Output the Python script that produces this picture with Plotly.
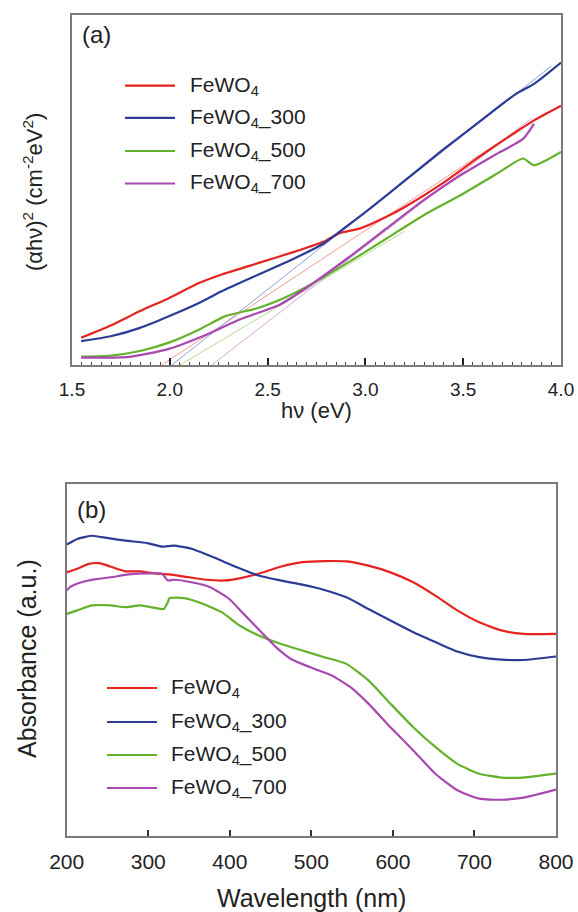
import plotly.graph_objects as go

W, H = 578, 912
FONT = "Liberation Sans, Arial, sans-serif"

# ---------------- Panel (a) data: (alpha h nu)^2 vs h nu ----------------
a_red_x = [1.547, 1.698, 1.848, 1.995, 2.149, 2.262, 2.451, 2.639, 2.789, 2.865, 2.978, 3.110, 3.204, 3.392, 3.580, 3.768, 3.862, 4.0]
a_red_y = [7.8, 11.3, 15.4, 19.1, 23.4, 25.8, 29.1, 32.4, 35.3, 37.6, 39.1, 42.4, 45.2, 51.8, 59.4, 66.5, 69.9, 74.1]

a_blue_x = [1.547, 1.698, 1.848, 1.995, 2.149, 2.262, 2.451, 2.639, 2.789, 2.902, 3.015, 3.204, 3.392, 3.580, 3.768, 3.862, 4.0]
a_blue_y = [6.8, 8.2, 10.6, 13.9, 17.7, 21.0, 25.8, 30.5, 34.8, 39.5, 44.3, 52.8, 61.3, 69.4, 77.4, 80.3, 86.4]

a_green_x = [1.547, 1.698, 1.848, 1.995, 2.149, 2.281, 2.451, 2.601, 2.733, 2.921, 3.110, 3.298, 3.486, 3.674, 3.806, 3.862, 4.0]
a_green_y = [2.4, 2.7, 4.0, 6.4, 10.1, 13.9, 16.3, 19.6, 23.4, 29.6, 36.2, 42.8, 48.5, 54.7, 59.0, 57.1, 60.9]

a_purple_x = [1.547, 1.792, 1.995, 2.168, 2.357, 2.564, 2.733, 2.921, 3.110, 3.298, 3.486, 3.674, 3.806, 3.862]
a_purple_y = [2.1, 2.3, 4.6, 8.2, 13.0, 17.3, 23.4, 31.0, 39.1, 47.1, 54.2, 60.4, 64.6, 68.9]

# linear extrapolation (Tauc) lines: [start, end]
tan_red_x, tan_red_y = [1.959, 3.80], [0.0, 68.0]
tan_blue_x, tan_blue_y = [2.010, 3.95], [0.0, 85.4]
tan_green_x, tan_green_y = [2.052, 3.20], [0.0, 38.2]
tan_purple_x, tan_purple_y = [2.214, 3.85], [0.0, 70.5]

# ---------------- Panel (b) data: absorbance vs wavelength ----------------
b_red_x = [200, 213, 227, 240, 254, 272, 290, 308, 326, 344, 371, 394, 412, 435, 462, 489, 516, 543, 570, 597, 625, 652, 679, 706, 733, 760, 800]
b_red_y = [74.9, 75.9, 77.3, 77.5, 76.5, 75.2, 75.2, 74.6, 74.3, 73.7, 72.8, 72.6, 73.2, 74.5, 76.5, 77.8, 78.1, 78.0, 76.8, 74.9, 72.1, 68.3, 64.1, 60.7, 58.4, 57.4, 57.4]

b_blue_x = [200, 213, 231, 249, 272, 299, 317, 331, 353, 380, 408, 435, 462, 489, 516, 543, 570, 597, 625, 652, 679, 706, 733, 760, 800]
b_blue_y = [82.8, 84.4, 85.3, 84.7, 83.9, 83.2, 82.2, 82.5, 81.6, 79.2, 76.4, 74.0, 72.6, 71.4, 69.9, 67.8, 64.5, 61.2, 57.9, 55.1, 52.4, 50.8, 50.1, 50.0, 51.0]

b_green_x = [200, 213, 231, 254, 272, 290, 308, 319, 324, 326, 344, 362, 390, 412, 435, 462, 489, 516, 543, 570, 597, 625, 652, 679, 706, 733, 760, 800]
b_green_y = [63.1, 64.1, 65.5, 65.5, 65.0, 65.5, 64.8, 64.5, 66.4, 67.6, 67.6, 66.4, 63.6, 59.8, 57.0, 54.6, 52.7, 50.8, 48.9, 44.2, 37.6, 30.9, 25.3, 20.5, 17.7, 16.6, 16.6, 17.7]

b_purple_x = [200, 204, 218, 236, 254, 276, 299, 317, 324, 331, 353, 376, 399, 417, 435, 457, 475, 498, 525, 548, 570, 597, 625, 652, 679, 706, 733, 760, 800]
b_purple_y = [69.7, 70.7, 72.1, 73.0, 73.5, 74.3, 74.6, 74.5, 72.6, 72.8, 72.1, 70.7, 67.4, 63.1, 58.8, 53.6, 50.3, 48.0, 45.6, 42.3, 37.6, 30.9, 24.3, 17.7, 13.0, 10.6, 10.3, 10.9, 13.2]

names = ["FeWO<sub>4</sub>", "FeWO<sub>4</sub>_300", "FeWO<sub>4</sub>_500", "FeWO<sub>4</sub>_700"]
colors = ["#e5231f", "#2c3c96", "#64b22c", "#a848b0"]
light = ["#f29a95", "#8fa0d8", "#b4dc94", "#d9a6dd"]

a_x_ticks = [1.5, 2.0, 2.5, 3.0, 3.5, 4.0]
a_x_ticklabels = ["1.5", "2.0", "2.5", "3.0", "3.5", "4.0"]
b_x_ticks = [200, 300, 400, 500, 600, 700, 800]

fig = go.Figure()

# tangent lines (thin, light)
for (tx, ty), c in zip([(tan_red_x, tan_red_y), (tan_blue_x, tan_blue_y),
                         (tan_green_x, tan_green_y), (tan_purple_x, tan_purple_y)], light):
    fig.add_trace(go.Scatter(x=tx, y=ty, mode="lines", line=dict(color=c, width=1),
                             showlegend=False, hoverinfo="skip", xaxis="x", yaxis="y"))

for (xs, ys), c, n in zip([(a_red_x, a_red_y), (a_blue_x, a_blue_y),
                            (a_green_x, a_green_y), (a_purple_x, a_purple_y)], colors, names):
    fig.add_trace(go.Scatter(x=xs, y=ys, mode="lines", line=dict(color=c, width=2.2, shape="spline", smoothing=0.6),
                             name=n, showlegend=False, xaxis="x", yaxis="y"))

for (xs, ys), c, n in zip([(b_red_x, b_red_y), (b_blue_x, b_blue_y),
                            (b_green_x, b_green_y), (b_purple_x, b_purple_y)], colors, names):
    fig.add_trace(go.Scatter(x=xs, y=ys, mode="lines", line=dict(color=c, width=2.2, shape="spline", smoothing=0.5),
                             name=n, showlegend=False, xaxis="x2", yaxis="y2"))

def px_x(p):
    return p / W

def px_y(p):
    return 1 - p / H

axis_common = dict(showline=True, linecolor="#7a7a7a", linewidth=1.5, mirror=True,
                   showgrid=False, zeroline=False)

fig.update_layout(
    template="none",
    width=W, height=H, margin=dict(l=0, r=0, t=0, b=0),
    paper_bgcolor="white", plot_bgcolor="white", showlegend=False,
    font=dict(family=FONT, color="#222", size=18),
    xaxis=dict(domain=[px_x(72), px_x(561)], range=[1.5, 4.0], anchor="y",
               tickvals=a_x_ticks, ticktext=a_x_ticklabels,
               ticks="inside", ticklen=7,
               tickwidth=2, tickcolor="#222", tickfont=dict(size=19, family=FONT, color="#222"),
               ticklabelstandoff=6,
               minor=dict(tickmode="linear", tick0=1.5, dtick=0.05, ticks="inside", ticklen=3.5,
                          tickwidth=1.2, tickcolor="#444", showgrid=False),
               **axis_common),
    yaxis=dict(domain=[px_y(365), px_y(15)], range=[0, 100], anchor="x",
               showticklabels=False, ticks="", **axis_common),
    xaxis2=dict(domain=[px_x(66.7), px_x(556)], range=[200, 800], anchor="y2",
                tickvals=b_x_ticks, ticks="inside", ticklen=6, tickwidth=1.5, tickcolor="#333",
                tickfont=dict(size=21, family=FONT, color="#222"), ticklabelstandoff=6,
                **axis_common),
    yaxis2=dict(domain=[px_y(836), px_y(484)], range=[0, 100], anchor="x2",
                showticklabels=False, ticks="", **axis_common),
)

ann = []
# axis titles
ann.append(dict(text="hν (eV)", x=px_x(316), y=px_y(410), xref="paper", yref="paper",
                showarrow=False, font=dict(size=22, family=FONT, color="#222"), xanchor="center", yanchor="middle"))
ann.append(dict(text="(αhν)<sup>2</sup> (cm<sup>-2</sup>eV<sup>2</sup>)", x=px_x(33), y=px_y(192),
                xref="paper", yref="paper", textangle=-90, showarrow=False,
                font=dict(size=22, family=FONT, color="#222"), xanchor="center", yanchor="middle"))
ann.append(dict(text="Wavelength (nm)", x=px_x(311), y=px_y(898), xref="paper", yref="paper",
                showarrow=False, font=dict(size=25, family=FONT, color="#222"), xanchor="center", yanchor="middle"))
ann.append(dict(text="Absorbance (a.u.)", x=px_x(27), y=px_y(659), xref="paper", yref="paper",
                textangle=-90, showarrow=False, font=dict(size=25, family=FONT, color="#222"),
                xanchor="center", yanchor="middle"))
# panel labels
ann.append(dict(text="(a)", x=px_x(80), y=px_y(35), xref="paper", yref="paper", showarrow=False,
                font=dict(size=24, family=FONT, color="#222"), xanchor="left", yanchor="middle"))
ann.append(dict(text="(b)", x=px_x(75), y=px_y(509), xref="paper", yref="paper", showarrow=False,
                font=dict(size=24, family=FONT, color="#222"), xanchor="left", yanchor="middle"))

shapes = []
# legends
leg_a_rows = [85.7, 117.9, 151.0, 183.5]
leg_b_rows = [688, 722, 755, 788]
for (x0, x1, xt, rows) in [(125, 175, 188, leg_a_rows), (107, 157, 169, leg_b_rows)]:
    for yy, c, n in zip(rows, colors, names):
        shapes.append(dict(type="line", xref="paper", yref="paper", x0=px_x(x0), x1=px_x(x1),
                           y0=px_y(yy), y1=px_y(yy), line=dict(color=c, width=2.2)))
        ann.append(dict(text=n, x=px_x(xt), y=px_y(yy), xref="paper", yref="paper", showarrow=False,
                        font=dict(size=21, family=FONT, color="#222"), xanchor="left", yanchor="middle"))

fig.update_layout(annotations=ann, shapes=shapes)
fig.write_html("out.html")
